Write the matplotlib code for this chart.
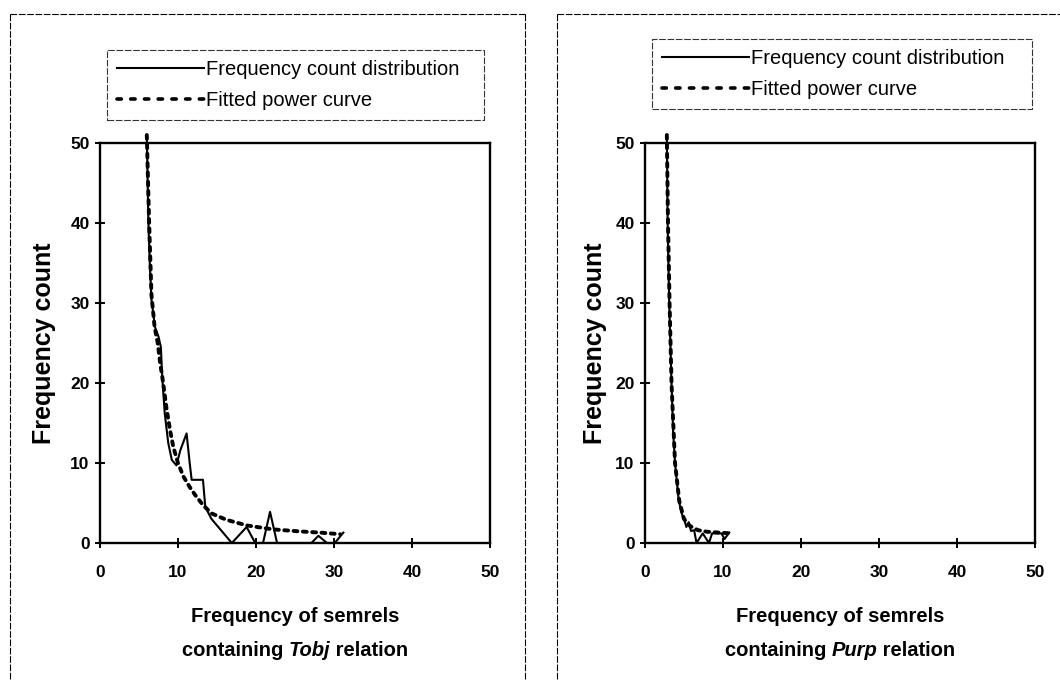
import matplotlib
matplotlib.use("Agg")
import matplotlib.pyplot as plt
from matplotlib.lines import Line2D

plt.rcParams['font.family'] = ['Liberation Sans', 'DejaVu Sans']

# ---- data ----
tobj_count_x = [6.0, 6.2, 6.4, 6.6, 7.05, 7.5, 7.8, 8.0, 8.3, 8.75, 9.2, 9.8, 10.3, 11.1,
                11.5, 11.75, 13.2, 13.5, 14.3, 16.9, 18.8, 19.9, 20.9, 21.8, 22.7, 27.1,
                28.0, 29.1, 30.1, 31.2]
tobj_count_y = [51, 40, 34.5, 30.4, 27, 25.8, 24.5, 20.4, 16.2, 12.5, 10.4, 9.7, 11.6, 13.7,
                10, 7.9, 7.9, 4.5, 3, 0, 2, 0, 0, 3.9, 0, 0, 0.9, 0, 0, 1.3]
tobj_fit_x = [6.0, 6.3, 6.6, 7.0, 7.4, 7.7, 8.1, 8.5, 9.0, 9.4, 10.0, 10.7, 11.5, 12.2,
              13.2, 14.3, 16.2, 18.8, 22.2, 25.6, 28.2, 30.8]
tobj_fit_y = [51, 40, 31, 27, 25, 22.6, 20, 17, 14, 12, 10, 8.3, 7, 6,
              4.75, 3.7, 2.9, 2.2, 1.7, 1.45, 1.3, 1.1]

purp_count_x = [2.8, 2.9, 3.1, 3.4, 3.6, 3.85, 4.3, 4.7, 5.1, 5.3, 5.6, 5.9, 6.3, 6.6,
                7.4, 8.2, 8.6, 9.8, 10.2, 10.8]
purp_count_y = [51, 40, 30, 20, 14, 10, 5.5, 3.7, 2.7, 2.0, 2.6, 1.5, 1.6, 0,
                1.2, 0, 1.2, 1.2, 0.5, 1.3]
purp_fit_x = [2.8, 2.95, 3.15, 3.4, 3.85, 4.4, 5.0, 5.8, 6.8, 8.0, 9.5, 11.1]
purp_fit_y = [51, 40, 30, 20, 10, 5.2, 3.0, 2.1, 1.6, 1.4, 1.3, 1.2]

x_ticks = [0, 10, 20, 30, 40, 50]
y_ticks = [0, 10, 20, 30, 40, 50]
legend_labels = ["Frequency count distribution", "Fitted power curve"]
y_label = "Frequency count"
x_label_line1 = "Frequency of semrels"
relations = ["Tobj", "Purp"]

W, H = 1060, 681
fig = plt.figure(figsize=(W / 100, H / 100), dpi=100)

def fx(px):
    return px / W

def fy(py):
    return 1 - py / H

panels = [
    dict(ax_left=100, cx=tobj_count_x, cy=tobj_count_y, fx_=tobj_fit_x, fy_=tobj_fit_y,
         rel=relations[0], leg=(107, 50, 484, 122), ylab_x=56,
         frame_lines=[((10, 525), (14, 14)), ((10, 10), (14, 690)), ((525, 525), (14, 690))]),
    dict(ax_left=645, cx=purp_count_x, cy=purp_count_y, fx_=purp_fit_x, fy_=purp_fit_y,
         rel=relations[1], leg=(652, 39, 1032, 112), ylab_x=607,
         frame_lines=[((557, 1065), (14, 14)), ((557, 557), (14, 690))]),
]

fit_style = dict(color='black', lw=2.8, linestyle=(0, (1.0, 1.4)), dash_capstyle='round')
fit_legend_style = dict(color='black', lw=2.6, linestyle=(0, (1.2, 2.6)), dash_capstyle='round')
count_style = dict(color='black', lw=1.5)

for p in panels:
    for xs, ys in p['frame_lines']:
        fig.add_artist(Line2D([fx(v) for v in xs], [fy(v) for v in ys], color='black',
                              lw=0.8, linestyle=(0, (6, 1.5)), transform=fig.transFigure))

    ax = fig.add_axes([fx(p['ax_left']), fy(543), 390 / W, 400 / H])
    ax.plot(p['cx'], p['cy'], clip_on=False, zorder=3, **count_style)
    ax.plot(p['fx_'], p['fy_'], clip_on=False, zorder=4, **fit_style)
    ax.set_xlim(0, 50)
    ax.set_ylim(0, 50)
    ax.set_xticks(x_ticks)
    ax.set_yticks(y_ticks)
    ax.set_xticklabels([str(v) for v in x_ticks])
    ax.set_yticklabels([str(v) for v in y_ticks])
    for s in ax.spines.values():
        s.set_linewidth(1.7)
    ax.tick_params(direction='inout', length=7, width=1.4, labelsize=12.5)
    ax.tick_params(axis='x', pad=12)
    ax.tick_params(axis='y', pad=4)
    for lab in ax.get_xticklabels() + ax.get_yticklabels():
        lab.set_fontweight('bold')

    ax.set_ylabel(y_label, fontsize=18, fontweight='bold')
    ax.yaxis.set_label_coords((p['ylab_x'] - p['ax_left']) / 390, 0.5)

    # two-line x label, second line with italic relation name
    ax.text(0.5, (543 - 617) / 400, x_label_line1, transform=ax.transAxes, ha='center',
            va='center', fontsize=14.5, fontweight='bold')
    parts = [("containing ", 'normal'), (p['rel'], 'italic'), (" relation", 'normal')]
    texts = []
    for s, st in parts:
        texts.append(ax.text(0, (543 - 651) / 400, s, transform=ax.transAxes, ha='left',
                             va='center', fontsize=14.5, fontweight='bold', fontstyle=st))
    fig.canvas.draw()
    r = fig.canvas.get_renderer()
    widths = [tt.get_window_extent(r).width for tt in texts]
    total = sum(widths)
    axw = ax.get_window_extent(r).width
    start = 0.5 - total / 2 / axw
    acc = 0
    for tt, wd in zip(texts, widths):
        tt.set_x(start + acc / axw)
        acc += wd

    # legend
    lx0, ly0, lx1, ly1 = p['leg']
    handles = [Line2D([], [], **count_style), Line2D([], [], **fit_legend_style)]
    leg = fig.legend(handles, legend_labels, loc='upper left',
                     bbox_to_anchor=(fx(lx0), fy(ly1), (lx1 - lx0) / W, (ly1 - ly0) / H),
                     bbox_transform=fig.transFigure, mode='expand', fontsize=14.5,
                     handlelength=4.3, handletextpad=0.12, labelspacing=0.6,
                     borderpad=0.5, fancybox=False, frameon=True, borderaxespad=0)
    leg.get_frame().set_edgecolor('black')
    leg.get_frame().set_linewidth(0.8)
    leg.get_frame().set_linestyle((0, (6, 1.5)))

fig.savefig("out.png", dpi=100)
